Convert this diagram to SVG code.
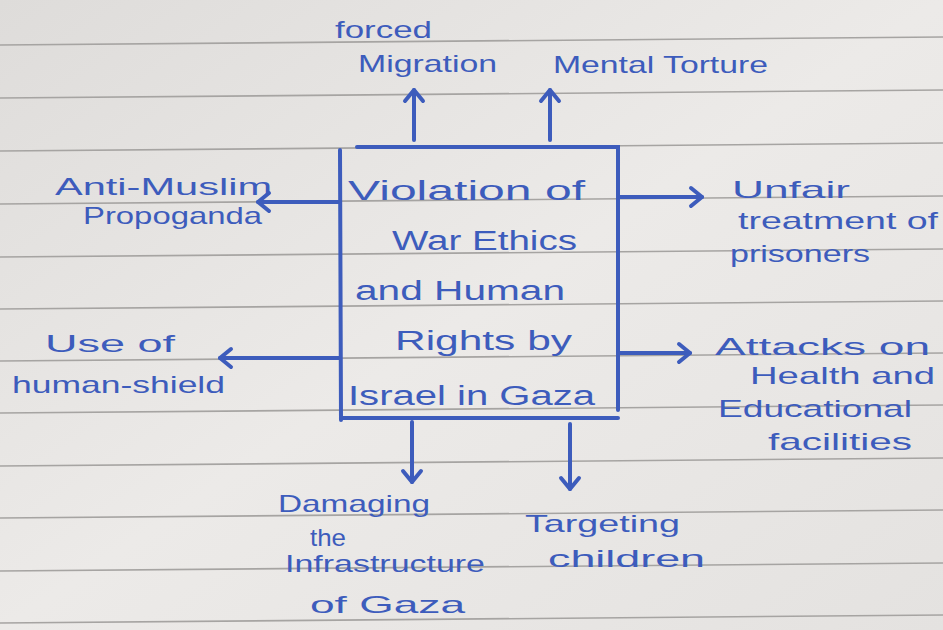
<svg xmlns="http://www.w3.org/2000/svg" width="943" height="630" viewBox="0 0 943 630">
<style>
.t{font-family:"Liberation Sans","DejaVu Sans",sans-serif;fill:#3d5cbc;font-size:24px}
.b{font-size:27px}
.ln{stroke:#a6a4a2;stroke-width:1.6;fill:none}
.ink{stroke:#3d5cbc;stroke-width:4;fill:none;stroke-linecap:round}
</style>
<defs>
<linearGradient id="paper" x1="0" y1="0" x2="1" y2="1">
<stop offset="0" stop-color="#dedcda"/>
<stop offset="0.5" stop-color="#eceae8"/>
<stop offset="1" stop-color="#e4e2e0"/>
</linearGradient>
<marker id="ah" markerUnits="userSpaceOnUse" markerWidth="30" markerHeight="30" viewBox="-15 -15 30 30" refX="0" refY="0" orient="auto">
<path d="M-11,-9 L0,0 L-11,9" fill="none" stroke="#3d5cbc" stroke-width="4" stroke-linecap="round" stroke-linejoin="round"/>
</marker>
</defs>
<rect width="943" height="630" fill="url(#paper)"/>
<g id="paper-lines">
<line class="ln" x1="0" y1="45" x2="943" y2="37"/>
<line class="ln" x1="0" y1="98" x2="943" y2="90"/>
<line class="ln" x1="0" y1="151" x2="943" y2="143"/>
<line class="ln" x1="0" y1="204" x2="943" y2="196"/>
<line class="ln" x1="0" y1="257" x2="943" y2="249"/>
<line class="ln" x1="0" y1="309" x2="943" y2="301"/>
<line class="ln" x1="0" y1="361" x2="943" y2="353"/>
<line class="ln" x1="0" y1="413" x2="943" y2="405"/>
<line class="ln" x1="0" y1="466" x2="943" y2="458"/>
<line class="ln" x1="0" y1="518" x2="943" y2="510"/>
<line class="ln" x1="0" y1="571" x2="943" y2="563"/>
<line class="ln" x1="0" y1="623" x2="943" y2="615"/>
</g>
<g id="connectors">
<line class="ink" x1="414" y1="140" x2="414" y2="90" marker-end="url(#ah)"/>
<line class="ink" x1="550" y1="140" x2="550" y2="90" marker-end="url(#ah)"/>
<line class="ink" x1="340" y1="202" x2="258" y2="202" marker-end="url(#ah)"/>
<line class="ink" x1="340" y1="358" x2="220" y2="358" marker-end="url(#ah)"/>
<line class="ink" x1="618" y1="197" x2="702" y2="197" marker-end="url(#ah)"/>
<line class="ink" x1="618" y1="353" x2="690" y2="353" marker-end="url(#ah)"/>
<line class="ink" x1="412" y1="422" x2="412" y2="482" marker-end="url(#ah)"/>
<line class="ink" x1="570" y1="424" x2="570" y2="489" marker-end="url(#ah)"/>
</g>
<g id="center">
<path class="ink" d="M357,147 L618,147 L618,410 M340,150 L341,420 M343,418 L618,418"/>
<text class="t b" x="348" y="200" textLength="237" lengthAdjust="spacingAndGlyphs">Violation of</text>
<text class="t b" x="392" y="250" textLength="185" lengthAdjust="spacingAndGlyphs">War Ethics</text>
<text class="t b" x="355" y="300" textLength="210" lengthAdjust="spacingAndGlyphs">and Human</text>
<text class="t b" x="395" y="350" textLength="177" lengthAdjust="spacingAndGlyphs">Rights by</text>
<text class="t b" x="348" y="405" textLength="247" lengthAdjust="spacingAndGlyphs">Israel in Gaza</text>
</g>
<g id="forced-migration">
<text class="t" x="335" y="38" textLength="97" lengthAdjust="spacingAndGlyphs">forced</text>
<text class="t" x="358" y="72" textLength="139" lengthAdjust="spacingAndGlyphs">Migration</text>
</g>
<g id="mental-torture">
<text class="t" x="553" y="73" textLength="215" lengthAdjust="spacingAndGlyphs">Mental Torture</text>
</g>
<g id="anti-muslim">
<text class="t" x="55" y="195" textLength="217" lengthAdjust="spacingAndGlyphs">Anti-Muslim</text>
<text class="t" x="83" y="224" textLength="179" lengthAdjust="spacingAndGlyphs">Propoganda</text>
</g>
<g id="human-shield">
<text class="t" x="45" y="352" textLength="130" lengthAdjust="spacingAndGlyphs">Use of</text>
<text class="t" x="12" y="393" textLength="213" lengthAdjust="spacingAndGlyphs">human-shield</text>
</g>
<g id="prisoners">
<text class="t" x="732" y="198" textLength="118" lengthAdjust="spacingAndGlyphs">Unfair</text>
<text class="t" x="738" y="229" textLength="200" lengthAdjust="spacingAndGlyphs">treatment of</text>
<text class="t" x="730" y="262" textLength="140" lengthAdjust="spacingAndGlyphs">prisoners</text>
</g>
<g id="attacks">
<text class="t" x="715" y="355" textLength="215" lengthAdjust="spacingAndGlyphs">Attacks on</text>
<text class="t" x="750" y="384" textLength="185" lengthAdjust="spacingAndGlyphs">Health and</text>
<text class="t" x="718" y="417" textLength="194" lengthAdjust="spacingAndGlyphs">Educational</text>
<text class="t" x="768" y="450" textLength="144" lengthAdjust="spacingAndGlyphs">facilities</text>
</g>
<g id="infrastructure">
<text class="t" x="278" y="512" textLength="152" lengthAdjust="spacingAndGlyphs">Damaging</text>
<text class="t" x="310" y="546" textLength="36" lengthAdjust="spacingAndGlyphs">the</text>
<text class="t" x="285" y="572" textLength="200" lengthAdjust="spacingAndGlyphs">Infrastructure</text>
<text class="t" x="310" y="613" textLength="155" lengthAdjust="spacingAndGlyphs">of Gaza</text>
</g>
<g id="children">
<text class="t" x="525" y="532" textLength="155" lengthAdjust="spacingAndGlyphs">Targeting</text>
<text class="t" x="548" y="567" textLength="157" lengthAdjust="spacingAndGlyphs">children</text>
</g>
</svg>
